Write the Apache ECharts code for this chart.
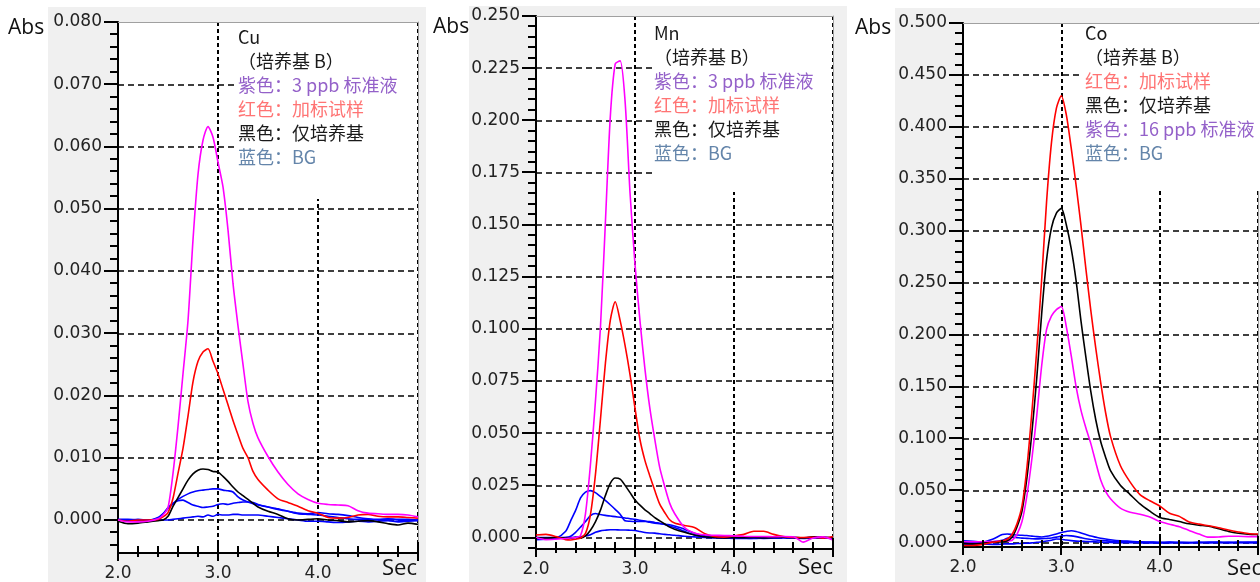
<!DOCTYPE html>
<html><head><meta charset="utf-8">
<script src="https://cdn.jsdelivr.net/npm/echarts@6/dist/echarts.min.js"></script>
<style>
html,body{margin:0;padding:0;background:#fff}
#wrap{position:relative;width:1260px;height:582px;overflow:hidden}
#bgs{position:absolute;left:0;top:0;width:1260px;height:582px}
#bgs div{position:absolute}
#c{position:absolute;left:0;top:0;width:1260px;height:582px}
</style>
</head><body><div id="wrap"><div id="bgs"></div><div id="c"></div></div>
<script>
// ---------- Cu ----------
const cuTime = [2.0,2.1,2.2,2.3,2.4,2.45,2.5,2.55,2.6,2.65,2.7,2.75,2.8,2.85,2.9,2.95,3.0,3.05,3.1,3.15,3.2,3.25,3.3,3.35,3.4,3.5,3.6,3.7,3.8,3.9,4.0,4.1,4.2,4.3,4.4,4.5,4.6,4.7,4.8,4.9,5.0];
const cuStd = [0.0000,-0.0003,-0.0003,-0.0002,0.0002,0.0008,0.0020,0.0075,0.0150,0.0235,0.0320,0.0450,0.0555,0.0610,0.0632,0.0615,0.0575,0.0535,0.0466,0.0380,0.0312,0.0250,0.0190,0.0155,0.0132,0.0102,0.0077,0.0057,0.0042,0.0033,0.0027,0.0025,0.0024,0.0023,0.0015,0.0011,0.0010,0.0009,0.0009,0.0008,0.0005];
const cuSpiked = [0.0000,-0.0002,0.0000,0.0000,0.0001,0.0005,0.0012,0.0035,0.0075,0.0115,0.0167,0.0222,0.0255,0.0270,0.0275,0.0255,0.0235,0.0210,0.0185,0.0160,0.0137,0.0115,0.0100,0.0078,0.0065,0.0048,0.0034,0.0028,0.0022,0.0015,0.0011,0.0004,0.0003,0.0004,0.0008,0.0009,0.0006,0.0005,0.0005,0.0004,0.0003];
const cuMatrix = [-0.0002,-0.0006,-0.0005,-0.0003,-0.0001,0.0000,0.0006,0.0022,0.0036,0.0050,0.0064,0.0074,0.0080,0.0082,0.0081,0.0078,0.0077,0.0070,0.0062,0.0053,0.0045,0.0039,0.0033,0.0027,0.0021,0.0014,0.0009,0.0002,0.0000,0.0001,0.0002,0.0000,-0.0001,-0.0003,-0.0002,-0.0001,-0.0003,-0.0006,-0.0008,-0.0005,-0.0007];
const cuBgA = [0.0001,0.0001,0.0000,-0.0001,0.0004,0.0010,0.0018,0.0026,0.0033,0.0038,0.0042,0.0045,0.0047,0.0048,0.0049,0.0050,0.0050,0.0048,0.0047,0.0045,0.0037,0.0032,0.0029,0.0026,0.0024,0.0021,0.0018,0.0014,0.0010,0.0009,0.0008,0.0006,0.0004,0.0002,0.0001,0.0001,0.0000,0.0001,0.0000,-0.0001,0.0000];
const cuBgB = [0.0000,0.0000,0.0001,0.0000,0.0003,0.0010,0.0020,0.0027,0.0031,0.0032,0.0028,0.0024,0.0022,0.0020,0.0021,0.0022,0.0025,0.0026,0.0025,0.0027,0.0028,0.0029,0.0029,0.0028,0.0025,0.0021,0.0017,0.0014,0.0011,0.0010,0.0012,0.0010,0.0009,0.0007,0.0004,0.0002,0.0001,0.0002,0.0001,0.0001,0.0000];
const cuBgC = [0.0000,0.0000,0.0000,0.0000,0.0000,0.0000,0.0000,0.0001,0.0002,0.0003,0.0004,0.0005,0.0006,0.0005,0.0008,0.0006,0.0009,0.0008,0.0008,0.0009,0.0009,0.0008,0.0008,0.0008,0.0008,0.0006,0.0004,0.0002,0.0000,-0.0002,-0.0002,-0.0003,-0.0004,-0.0003,-0.0002,-0.0003,-0.0002,-0.0001,-0.0003,-0.0002,-0.0001];

// ---------- Mn ----------
const mnTime = [2.0,2.1,2.2,2.3,2.35,2.4,2.45,2.5,2.55,2.6,2.65,2.7,2.75,2.8,2.85,2.9,2.95,3.0,3.05,3.1,3.15,3.2,3.25,3.3,3.35,3.4,3.5,3.6,3.7,3.8,3.9,4.0,4.1,4.2,4.3,4.4,4.5,4.6,4.7,4.8,4.9,5.0];
const mnStd = [0.0000,-0.0010,-0.0008,-0.0005,-0.0002,0.0000,0.0010,0.0115,0.0350,0.0650,0.1000,0.1500,0.2013,0.2270,0.2285,0.2090,0.1650,0.1310,0.1040,0.0810,0.0620,0.0470,0.0335,0.0245,0.0165,0.0115,0.0048,0.0022,0.0013,0.0011,0.0010,0.0008,0.0006,0.0005,0.0005,0.0004,0.0005,0.0004,-0.0022,-0.0002,0.0003,-0.0012];
const mnSpiked = [0.0012,0.0015,0.0005,-0.0010,-0.0012,-0.0008,-0.0002,0.0020,0.0110,0.0300,0.0560,0.0830,0.1040,0.1130,0.1040,0.0920,0.0780,0.0620,0.0470,0.0370,0.0295,0.0225,0.0160,0.0120,0.0085,0.0070,0.0058,0.0048,0.0020,0.0005,0.0002,0.0008,0.0015,0.0030,0.0030,0.0015,0.0005,0.0000,0.0000,0.0001,-0.0003,0.0005];
const mnMatrix = [0.0000,-0.0003,0.0000,-0.0002,-0.0003,0.0000,-0.0002,0.0008,0.0035,0.0075,0.0130,0.0200,0.0260,0.0285,0.0280,0.0250,0.0215,0.0180,0.0155,0.0133,0.0115,0.0095,0.0080,0.0065,0.0050,0.0040,0.0025,0.0012,0.0004,0.0000,-0.0002,0.0000,-0.0001,0.0000,-0.0002,0.0000,0.0002,0.0000,-0.0002,0.0003,0.0002,-0.0001];
const mnBgA = [-0.0011,-0.0008,-0.0004,0.0030,0.0080,0.0130,0.0190,0.0218,0.0225,0.0215,0.0197,0.0178,0.0157,0.0135,0.0112,0.0080,0.0078,0.0077,0.0077,0.0077,0.0077,0.0072,0.0068,0.0062,0.0055,0.0048,0.0030,0.0012,0.0005,0.0002,0.0002,0.0000,-0.0002,-0.0004,-0.0002,0.0000,0.0002,0.0000,-0.0002,0.0000,-0.0001,0.0000];
const mnBgB = [-0.0008,-0.0006,-0.0003,0.0000,0.0006,0.0025,0.0050,0.0077,0.0105,0.0115,0.0110,0.0106,0.0103,0.0100,0.0097,0.0094,0.0090,0.0087,0.0083,0.0079,0.0073,0.0069,0.0066,0.0064,0.0061,0.0055,0.0040,0.0020,0.0008,0.0004,0.0002,0.0001,-0.0001,-0.0002,-0.0001,0.0001,0.0000,-0.0002,-0.0001,0.0002,0.0000,-0.0002];
const mnBgC = [0.0000,0.0000,0.0000,0.0000,0.0000,0.0002,0.0004,0.0007,0.0013,0.0025,0.0032,0.0035,0.0037,0.0037,0.0036,0.0036,0.0035,0.0034,0.0029,0.0024,0.0022,0.0021,0.0018,0.0015,0.0013,0.0011,0.0006,0.0003,0.0000,-0.0002,-0.0003,-0.0004,-0.0005,-0.0003,-0.0004,-0.0003,-0.0002,-0.0003,-0.0004,-0.0002,-0.0003,-0.0002];

// ---------- Co ----------
const coTime = [2.0,2.1,2.2,2.3,2.4,2.45,2.5,2.55,2.6,2.65,2.7,2.75,2.8,2.85,2.9,2.95,3.0,3.05,3.1,3.15,3.2,3.25,3.3,3.35,3.4,3.45,3.5,3.6,3.7,3.8,3.9,4.0,4.1,4.2,4.3,4.4,4.5,4.6,4.7,4.8,4.9,5.0];
const coSpiked = [-0.0030,-0.0030,-0.0020,0.0000,0.0015,0.0030,0.0078,0.0180,0.0350,0.0720,0.1250,0.1850,0.2530,0.3280,0.3850,0.4180,0.4300,0.4120,0.3800,0.3440,0.3050,0.2630,0.2230,0.1870,0.1540,0.1250,0.1020,0.0740,0.0580,0.0460,0.0400,0.0350,0.0280,0.0250,0.0195,0.0175,0.0160,0.0140,0.0118,0.0100,0.0085,0.0080];
const coMatrix = [-0.0010,-0.0015,-0.0010,0.0000,0.0005,0.0015,0.0050,0.0150,0.0300,0.0620,0.1050,0.1580,0.2200,0.2720,0.3030,0.3170,0.3215,0.3060,0.2830,0.2520,0.2130,0.1780,0.1450,0.1180,0.0970,0.0820,0.0690,0.0550,0.0460,0.0370,0.0300,0.0240,0.0220,0.0200,0.0178,0.0165,0.0155,0.0130,0.0105,0.0088,0.0078,0.0075];
const coStd = [0.0005,0.0005,0.0005,0.0008,0.0010,0.0012,0.0020,0.0080,0.0200,0.0450,0.0800,0.1220,0.1700,0.2050,0.2180,0.2240,0.2270,0.2080,0.1800,0.1500,0.1270,0.1100,0.0950,0.0770,0.0600,0.0490,0.0420,0.0330,0.0290,0.0270,0.0245,0.0200,0.0175,0.0150,0.0115,0.0080,0.0050,0.0052,0.0058,0.0058,0.0055,0.0055];
const coBgA = [0.0015,0.0010,0.0005,0.0030,0.0075,0.0080,0.0075,0.0070,0.0068,0.0065,0.0060,0.0055,0.0052,0.0058,0.0068,0.0080,0.0095,0.0105,0.0112,0.0105,0.0090,0.0075,0.0060,0.0050,0.0040,0.0032,0.0025,0.0015,0.0010,0.0005,0.0003,0.0000,0.0002,0.0000,-0.0002,0.0000,0.0003,0.0002,0.0000,0.0002,0.0000,0.0002];
const coBgB = [0.0000,0.0000,-0.0005,0.0005,0.0020,0.0040,0.0050,0.0045,0.0040,0.0038,0.0035,0.0033,0.0035,0.0038,0.0042,0.0050,0.0060,0.0065,0.0062,0.0055,0.0045,0.0035,0.0028,0.0022,0.0018,0.0015,0.0012,0.0008,0.0005,0.0002,0.0000,-0.0002,0.0000,-0.0003,-0.0002,0.0000,-0.0002,0.0000,-0.0003,-0.0001,0.0000,-0.0002];
const coBgC = [-0.0020,-0.0020,-0.0018,-0.0020,-0.0018,-0.0015,-0.0015,-0.0012,-0.0010,-0.0008,-0.0005,0.0000,0.0005,0.0012,0.0020,0.0032,0.0030,0.0022,0.0016,0.0012,0.0010,0.0008,0.0006,0.0004,0.0002,0.0000,-0.0002,-0.0003,-0.0004,-0.0005,-0.0005,-0.0006,-0.0005,-0.0004,-0.0005,-0.0004,-0.0005,-0.0004,-0.0003,-0.0004,-0.0003,-0.0003];

// ---------- ticks & labels ----------
const cuYTicks = [0, 0.01, 0.02, 0.03, 0.04, 0.05, 0.06, 0.07, 0.08];
const mnYTicks = [0, 0.025, 0.05, 0.075, 0.1, 0.125, 0.15, 0.175, 0.2, 0.225, 0.25];
const coYTicks = [0, 0.05, 0.1, 0.15, 0.2, 0.25, 0.3, 0.35, 0.4, 0.45, 0.5];
const xMajorTicks = [2.0, 3.0, 4.0, 5.0];
const xLabelValues = [2.0, 3.0, 4.0];
const xMinorStep = 0.2;

const cuLegend = ['Cu', '（培养基 B）', '紫色：3 ppb 标准液', '红色：加标试样', '黑色：仅培养基', '蓝色：BG'];
const mnLegend = ['Mn', '（培养基 B）', '紫色：3 ppb 标准液', '红色：加标试样', '黑色：仅培养基', '蓝色：BG'];
const coLegend = ['Co', '（培养基 B）', '红色：加标试样', '黑色：仅培养基', '紫色：16 ppb 标准液', '蓝色：BG'];

const C_MAG = '#ff00ff', C_RED = '#ff0000', C_BLK = '#000000', C_BLU = '#0000ff';
const T_PUR = '#9461c9', T_RED = '#ff7474', T_BLK = '#1a1a1a', T_BLU = '#6485aa';

const panels = [
  { grid: {left: 118, top: 22, width: 300, height: 531}, yMin: -0.0053, yMax: 0.08, ticks: cuYTicks, minorStep: 0.002,
    time: cuTime, lines: [[cuBgC, C_BLU], [cuBgB, C_BLU], [cuBgA, C_BLU], [cuMatrix, C_BLK], [cuSpiked, C_RED], [cuStd, C_MAG]],
    legend: cuLegend, legendColors: [T_BLK, T_BLK, T_PUR, T_RED, T_BLK, T_BLU],
    bg: [48, 7, 378, 575], box: [238, 23, 177, 176], text: [238, 37], abs: [8, 28], sec: [417, 569] },
  { grid: {left: 536, top: 16, width: 297, height: 533}, yMin: -0.0055, yMax: 0.25, ticks: mnYTicks, minorStep: 0.005,
    time: mnTime, lines: [[mnBgC, C_BLU], [mnBgB, C_BLU], [mnBgA, C_BLU], [mnMatrix, C_BLK], [mnSpiked, C_RED], [mnStd, C_MAG]],
    legend: mnLegend, legendColors: [T_BLK, T_BLK, T_PUR, T_RED, T_BLK, T_BLU],
    bg: [469, 6, 378, 576], box: [653, 17, 178, 175], text: [654, 33], abs: [433, 27], sec: [833, 568] },
  { grid: {left: 963, top: 23, width: 295, height: 524}, yMin: -0.0045, yMax: 0.5, ticks: coYTicks, minorStep: 0.01,
    time: coTime, lines: [[coBgC, C_BLU], [coBgB, C_BLU], [coBgA, C_BLU], [coStd, C_MAG], [coMatrix, C_BLK], [coSpiked, C_RED]],
    legend: coLegend, legendColors: [T_BLK, T_BLK, T_RED, T_BLK, T_PUR, T_BLU],
    bg: [895, 8, 365, 574], box: [1083, 24, 177, 167], text: [1085, 33], abs: [855, 28], sec: [1262, 569] }
];

function stepValues(min, max, step) {
  const out = [];
  for (let k = Math.ceil(min / step - 1e-9); k * step <= max + 1e-12; k++) out.push(+(k * step).toFixed(6));
  return out;
}
const isIn = (v, arr) => arr.some(a => Math.abs(a - v) < 1e-9);

// panel backgrounds (page layer underneath the transparent chart canvas)
const bgs = document.getElementById('bgs');
panels.forEach(p => {
  const g = document.createElement('div');
  g.style.cssText = `left:${p.bg[0]}px;top:${p.bg[1]}px;width:${p.bg[2]}px;height:${p.bg[3]}px;background:#f0f0f0`;
  bgs.appendChild(g);
  const w = document.createElement('div');
  w.style.cssText = `left:${p.grid.left}px;top:${p.grid.top}px;width:${p.grid.width}px;height:${p.grid.height}px;background:#ffffff`;
  bgs.appendChild(w);
});

const NUM_FONT = 'DejaVu Sans';
const grids = [], xAxes = [], yAxes = [], series = [], graphics = [], firstSeries = [];

panels.forEach((p, i) => {
  grids.push(Object.assign({show: false, containLabel: false}, p.grid));

  xAxes.push({type: 'value', gridIndex: i, position: 'bottom', min: 2, max: 5, interval: 1,
    axisLine: {show: true, onZero: false, lineStyle: {color: '#000', width: 2}},
    axisTick: {show: false},
    axisLabel: {show: true, customValues: xLabelValues, margin: 12, color: '#222', fontFamily: NUM_FONT, fontSize: 17,
      formatter: v => v.toFixed(1)},
    splitLine: {show: true, lineStyle: {color: '#000', width: 2, type: [4, 3]}}});
  xAxes.push({type: 'value', gridIndex: i, position: 'top', min: 2, max: 5, interval: 1,
    axisLine: {show: true, onZero: false, lineStyle: {color: '#a0a0a0', width: 1}},
    axisTick: {show: false}, axisLabel: {show: false}, splitLine: {show: false}});

  const gridTicks = p.ticks.filter(v => v < p.yMax);
  yAxes.push({type: 'value', gridIndex: i, position: 'left', min: p.yMin, max: p.yMax,
    axisLine: {show: true, onZero: false, lineStyle: {color: '#000', width: 2}},
    axisTick: {show: false, customValues: p.ticks},
    axisLabel: {show: true, customValues: p.ticks, margin: 16, color: '#222', fontFamily: NUM_FONT, fontSize: 17,
      formatter: v => v.toFixed(3)},
    splitLine: {show: false}});
  yAxes.push({type: 'value', gridIndex: i, position: 'left', min: p.yMin, max: p.yMax,
    axisLine: {show: false, onZero: false},
    axisTick: {show: false, customValues: gridTicks},
    axisLabel: {show: false},
    splitLine: {show: true, lineStyle: {color: '#000', width: 1.5, type: [6, 4]}}});
  yAxes.push({type: 'value', gridIndex: i, position: 'right', min: p.yMin, max: p.yMax,
    axisLine: {show: true, onZero: false, lineStyle: {color: '#a0a0a0', width: 1}},
    axisTick: {show: false}, axisLabel: {show: false}, splitLine: {show: false}});

  firstSeries.push(series.length);
  p.lines.forEach(([vals, color]) => {
    series.push({type: 'line', xAxisIndex: 2 * i, yAxisIndex: 3 * i, data: p.time.map((t, j) => [t, vals[j]]),
      showSymbol: false, symbol: 'none', smooth: 0.25, clip: true, silent: true, z: 2,
      lineStyle: {color: color, width: 1.6}, itemStyle: {color: color}});
  });

  graphics.push({type: 'rect', z: 50, silent: true, shape: {x: p.box[0], y: p.box[1], width: p.box[2], height: p.box[3]},
    style: {fill: '#ffffff'}});
  p.legend.forEach((txt, k) => {
    graphics.push({type: 'text', z: 51, silent: true, x: p.text[0], y: p.text[1] + k * 24,
      style: {text: txt, fill: p.legendColors[k], font: '18px "Noto Sans CJK SC"', align: 'left', verticalAlign: 'middle'}});
  });
  graphics.push({type: 'text', z: 51, silent: true, x: p.abs[0], y: p.abs[1],
    style: {text: 'Abs', fill: '#111', font: '21px "Open Sans"', align: 'left', verticalAlign: 'middle'}});
  graphics.push({type: 'text', z: 51, silent: true, x: p.sec[0], y: p.sec[1],
    style: {text: 'Sec', fill: '#111', font: '22px "Open Sans"', align: 'right', verticalAlign: 'middle'}});
});

const chart = echarts.init(document.getElementById('c'), null, {renderer: 'canvas'});
chart.setOption({
  animation: false,
  backgroundColor: 'transparent',
  grid: grids, xAxis: xAxes, yAxis: yAxes, series: series,
  graphic: {elements: graphics}
});

// pixel position of a data point in panel i, through that panel's own axes
function toPx(i, pt) {
  const ok = q => q && isFinite(q[0]) && isFinite(q[1]);
  let q = null;
  try { q = chart.convertToPixel({xAxisIndex: 2 * i, yAxisIndex: 3 * i}, pt); } catch (e) { q = null; }
  if (!ok(q)) { try { q = chart.convertToPixel({seriesIndex: firstSeries[i]}, pt); } catch (e) { q = null; } }
  if (!ok(q)) { try { q = chart.convertToPixel({gridIndex: i}, pt); } catch (e) { q = null; } }
  return ok(q) ? q : null;
}

// tick marks placed through each panel's axis scales
const tickEls = [];
function tickLine(x1, y1, x2, y2) {
  tickEls.push({type: 'line', z: 60, shape: {x1: x1, y1: y1, x2: x2, y2: y2},
    style: {stroke: '#000', lineWidth: 2}});
}
panels.forEach((p, i) => {
  p.ticks.forEach(v => { const q = toPx(i, [2, v]); if (q) { const y = Math.round(q[1]); tickLine(q[0] - 14, y, q[0], y); } });
  stepValues(p.yMin, p.yMax, p.minorStep).filter(v => !isIn(v, p.ticks)).forEach(v => {
    const q = toPx(i, [2, v]); if (q) { const y = Math.round(q[1]); tickLine(q[0] - 8, y, q[0], y); }
  });
  xMajorTicks.forEach(v => { const q = toPx(i, [v, p.yMin]); if (q) { const x = Math.round(q[0]); tickLine(x, q[1] - 11, x, q[1] + 8); } });
  stepValues(2, 5, xMinorStep).filter(v => !isIn(v, xMajorTicks)).forEach(v => {
    const q = toPx(i, [v, p.yMin]); if (q) { const x = Math.round(q[0]); tickLine(x, q[1] - 7, x, q[1] + 4); }
  });
});
try { chart.setOption({graphic: {elements: graphics.concat(tickEls)}}); } catch (e) {}
</script>
</body></html>
